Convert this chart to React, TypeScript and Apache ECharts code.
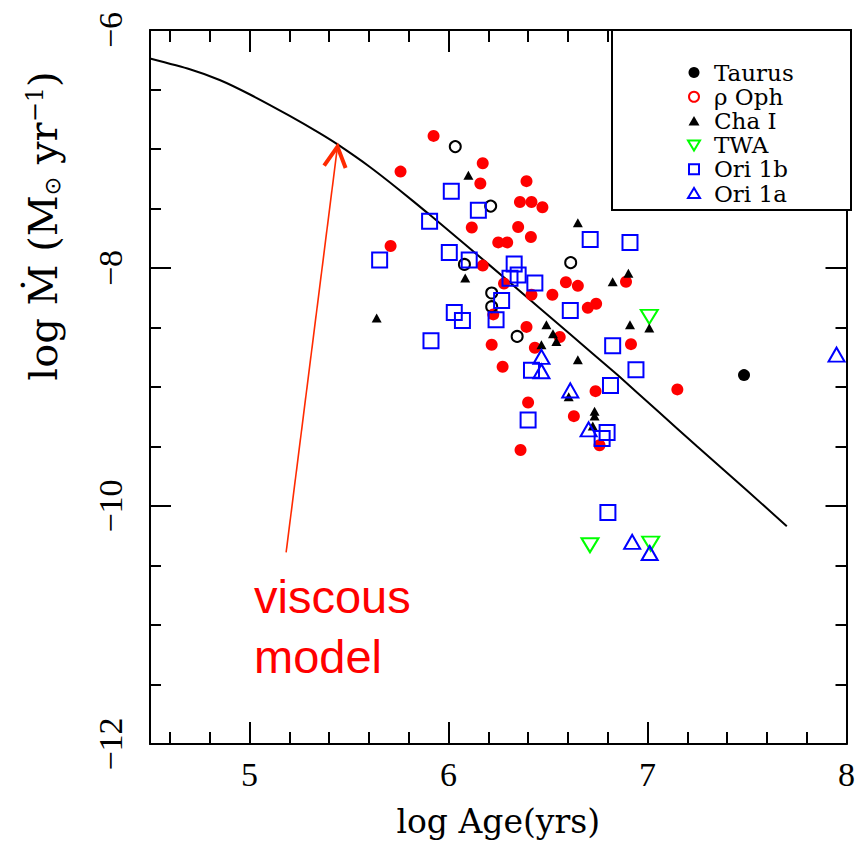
import React, { useEffect, useRef } from 'react';
import * as echarts from 'echarts';

const modelAge = [4.5, 4.7, 4.85, 5.0, 5.2, 5.35, 5.45, 5.6, 5.75, 5.9, 6.1, 6.3, 6.6, 6.85, 7.05, 7.25, 7.5, 7.7];
const modelMdot = [-6.24, -6.33, -6.42, -6.54, -6.72, -6.865, -6.97, -7.145, -7.34, -7.545, -7.825, -8.11, -8.54, -8.9, -9.2, -9.5, -9.87, -10.17];

const taurus = [[7.485, -8.9]];
const rhoOph = [
  [5.925, -6.89], [6.172, -7.12], [5.759, -7.19], [6.16, -7.29], [6.392, -7.27], [6.359, -7.445],
  [6.417, -7.445], [6.472, -7.49], [6.117, -7.66], [6.35, -7.655], [6.414, -7.74], [6.25, -7.785],
  [6.295, -7.785], [5.709, -7.815], [6.172, -7.98], [6.279, -8.13], [6.59, -8.12], [6.65, -8.15],
  [6.892, -8.115], [6.417, -8.225], [6.522, -8.225], [6.225, -8.39], [6.7, -8.335], [6.742, -8.3],
  [6.392, -8.495], [6.217, -8.645], [6.434, -8.67], [6.559, -8.58], [6.917, -8.64], [6.272, -8.83],
  [7.15, -9.02], [6.739, -9.035], [6.4, -9.13], [6.63, -9.245], [6.759, -9.49], [6.362, -9.53],
];
const openCircles = [
  [6.034, -6.98], [6.212, -7.48], [6.08, -7.97], [6.217, -8.21], [6.217, -8.325], [6.345, -8.575], [6.614, -7.955],
];
const chaI = [
  [6.1, -7.22], [6.65, -7.62], [6.084, -8.085], [6.825, -8.115], [6.904, -8.045], [5.639, -8.42],
  [6.492, -8.477], [6.525, -8.552], [6.542, -8.617], [6.467, -8.644], [6.912, -8.477], [7.009, -8.505],
  [6.65, -8.77], [6.604, -9.082], [6.734, -9.203], [6.734, -9.244], [6.725, -9.328],
];
const twa = [[7.009, -8.41], [6.711, -10.33], [7.016, -10.316]];
const ori1b = [
  [6.014, -7.356], [6.15, -7.515], [5.905, -7.607], [5.654, -7.933], [6.004, -7.869], [6.104, -7.933],
  [6.33, -7.967], [6.309, -8.086], [6.35, -8.059], [6.434, -8.126], [6.712, -7.76], [6.912, -7.785],
  [6.029, -8.374], [6.07, -8.441], [6.267, -8.274], [6.239, -8.435], [5.912, -8.611], [6.417, -8.859],
  [6.612, -8.357], [6.825, -8.653], [6.942, -8.854], [6.814, -8.987], [6.4, -9.278], [6.797, -9.383],
  [6.772, -9.433], [6.801, -10.055],
];
const ori1a = [
  [6.467, -8.747], [6.467, -8.868], [6.612, -9.029], [6.704, -9.356], [6.923, -10.301], [7.011, -10.395], [7.95, -8.728],
];

const arrowShaft = [[5.184, -10.39], [5.442, -6.98]];
const arrowHead = [[5.375, -7.14], [5.442, -6.98], [5.483, -7.16]];

const xMajor = [5, 6, 7, 8];
const xMinor = [4.6, 4.8, 5.2, 5.4, 5.6, 5.8, 6.2, 6.4, 6.6, 6.8, 7.2, 7.4, 7.6, 7.8];
const legendNames = ['Taurus', 'ρ Oph', 'Cha I', 'TWA', 'Ori 1b', 'Ori 1a'];
const annotation = ['viscous', 'model'];
const xTitle = 'log Age(yrs)';
const yTitle = '{a|log Ṁ (M}{s|⊙}{a| yr}{p|\u22121}{a|)}';

const SERIF = '"Liberation Serif", "DejaVu Serif", serif';
const DJ = '"DejaVu Serif", serif';

export default function App() {
  const ref = useRef<HTMLDivElement>(null);
  useEffect(() => {
    if (!ref.current) return;
    const chart = echarts.init(ref.current, null, { renderer: 'svg' });
    const lineStyle = { color: '#000', width: 2 };
    const xBase = (position: string, values: number[], len: number, labels: boolean, line: boolean) => ({
      type: 'value', min: 4.5, max: 8, position, gridIndex: 0,
      axisLine: { show: line, onZero: false, lineStyle },
      splitLine: { show: false },
      axisTick: { show: true, inside: true, length: len, customValues: values, lineStyle },
      axisLabel: labels
        ? { show: true, customValues: xMajor, color: '#000', fontFamily: SERIF, fontSize: 34, margin: 13 }
        : { show: false },
    });
    const yBase = (position: string, labels: boolean) => ({
      type: 'value', min: -12, max: -6, interval: 2, position,
      axisLine: { show: true, onZero: false, lineStyle },
      splitLine: { show: false },
      axisTick: { show: true, inside: true, length: 21, lineStyle },
      minorTick: { show: true, splitNumber: 4, length: 11, lineStyle },
      axisLabel: labels
        ? {
            show: true, rotate: 90, margin: 23, color: '#000', fontFamily: SERIF, fontSize: 34,
            formatter: (v: number) => (v < 0 ? '\u2212' + -v : String(v)),
          }
        : { show: false },
    });
    const rowY = (i: number) => 72.5 + i * 24.2;
    const mx = 694;
    const legendMarks: any[] = [
      { type: 'circle', shape: { cx: mx, cy: rowY(0), r: 5.5 }, style: { fill: '#000' } },
      { type: 'circle', shape: { cx: mx, cy: rowY(1), r: 5 }, style: { fill: 'none', stroke: '#ff0000', lineWidth: 2 } },
      { type: 'polygon', shape: { points: [[mx, rowY(2) - 5], [mx - 5.5, rowY(2) + 4.5], [mx + 5.5, rowY(2) + 4.5]] }, style: { fill: '#000' } },
      { type: 'polygon', shape: { points: [[mx - 6, rowY(3) - 4.5], [mx + 6, rowY(3) - 4.5], [mx, rowY(3) + 5.5]] }, style: { fill: 'none', stroke: '#00ff00', lineWidth: 2 } },
      { type: 'rect', shape: { x: mx - 5, y: rowY(4) - 5, width: 10, height: 10 }, style: { fill: 'none', stroke: '#0000ff', lineWidth: 2 } },
      { type: 'polygon', shape: { points: [[mx, rowY(5) - 5.5], [mx - 6, rowY(5) + 4.5], [mx + 6, rowY(5) + 4.5]] }, style: { fill: 'none', stroke: '#0000ff', lineWidth: 2 } },
    ];
    const legendTexts = legendNames.map((n, i) => ({
      type: 'text', x: 714, y: rowY(i),
      style: { text: n, font: `23px ${DJ}`, fill: '#000', textVerticalAlign: 'middle', verticalAlign: 'middle' },
    }));
    chart.setOption({
      animation: false,
      backgroundColor: '#fff',
      grid: { left: 150, right: 8, top: 30, bottom: 96 },
      xAxis: [
        {
          ...xBase('bottom', xMajor, 22, true, true),
          name: xTitle, nameLocation: 'middle', nameGap: 61,
          nameTextStyle: { color: '#000', fontFamily: DJ, fontSize: 33 },
        },
        xBase('bottom', xMinor, 12, false, false),
        xBase('top', xMajor, 22, false, true),
        xBase('top', xMinor, 12, false, false),
      ],
      yAxis: [yBase('left', true), yBase('right', false)],
      graphic: [
        { type: 'rect', shape: { x: 612, y: 30, width: 239, height: 180 }, style: { fill: '#fff', stroke: '#000', lineWidth: 2 }, z: 50 },
        ...legendMarks.map((m) => ({ ...m, z: 51 })),
        ...legendTexts.map((t) => ({ ...t, z: 51 })),
        ...annotation.map((t, i) => ({
          type: 'text', x: 254, y: 596 + i * 60,
          style: { text: t, font: '47px "Liberation Sans", Arial, sans-serif', fill: '#ff0000', textVerticalAlign: 'middle', verticalAlign: 'middle' },
        })),
        {
          type: 'text', x: 43, y: 226, rotation: Math.PI / 2,
          style: {
            text: yTitle, textAlign: 'center', align: 'center', textVerticalAlign: 'middle', verticalAlign: 'middle',
            font: `40px ${DJ}`, fill: '#000',
            rich: {
              a: { fontFamily: DJ, fontSize: 40, fill: '#000' },
              s: { fontFamily: '"DejaVu Sans", sans-serif', fontSize: 22, fill: '#000', verticalAlign: 'bottom' },
              p: { fontFamily: DJ, fontSize: 24, fill: '#000', verticalAlign: 'top' },
            },
          },
        },
      ],
      series: [
        {
          type: 'line', data: modelAge.map((a, i) => [a, modelMdot[i]]), showSymbol: false, smooth: 0.2,
          lineStyle: { color: '#000', width: 2 }, silent: true, z: 2,
        },
        { type: 'line', data: arrowShaft, showSymbol: false, lineStyle: { color: '#ff2a00', width: 1.6 }, silent: true, z: 2 },
        { type: 'line', data: arrowHead, showSymbol: false, lineStyle: { color: '#ff2a00', width: 4, join: 'miter' }, silent: true, z: 2 },
        { name: 'ρ Oph', type: 'scatter', data: rhoOph, symbol: 'circle', symbolSize: 12, itemStyle: { color: '#ff0000', opacity: 1 }, z: 3 },
        { name: 'ρ Oph open', type: 'scatter', data: openCircles, symbol: 'circle', symbolSize: 11, itemStyle: { color: 'rgba(0,0,0,0)', borderColor: '#000', borderWidth: 2, opacity: 1 }, z: 4 },
        { name: 'TWA', type: 'scatter', data: twa, symbol: 'triangle', symbolRotate: 180, symbolSize: [17, 14], itemStyle: { color: 'rgba(0,0,0,0)', borderColor: '#00ff00', borderWidth: 2, opacity: 1 }, z: 5 },
        { name: 'Cha I', type: 'scatter', data: chaI, symbol: 'triangle', symbolSize: [10, 9], itemStyle: { color: '#000', opacity: 1 }, z: 6 },
        { name: 'Taurus', type: 'scatter', data: taurus, symbol: 'circle', symbolSize: 12, itemStyle: { color: '#000', opacity: 1 }, z: 6 },
        { name: 'Ori 1b', type: 'scatter', data: ori1b, symbol: 'rect', symbolSize: 15, itemStyle: { color: 'rgba(0,0,0,0)', borderColor: '#0000ff', borderWidth: 2, opacity: 1 }, z: 7 },
        { name: 'Ori 1a', type: 'scatter', data: ori1a, symbol: 'triangle', symbolSize: [16, 14], itemStyle: { color: 'rgba(0,0,0,0)', borderColor: '#0000ff', borderWidth: 2, opacity: 1 }, z: 8 },
      ],
    });
    return () => chart.dispose();
  }, []);
  return <div ref={ref} style={{ position: 'absolute', left: 0, top: 0, width: 858, height: 843 }} />;
}
